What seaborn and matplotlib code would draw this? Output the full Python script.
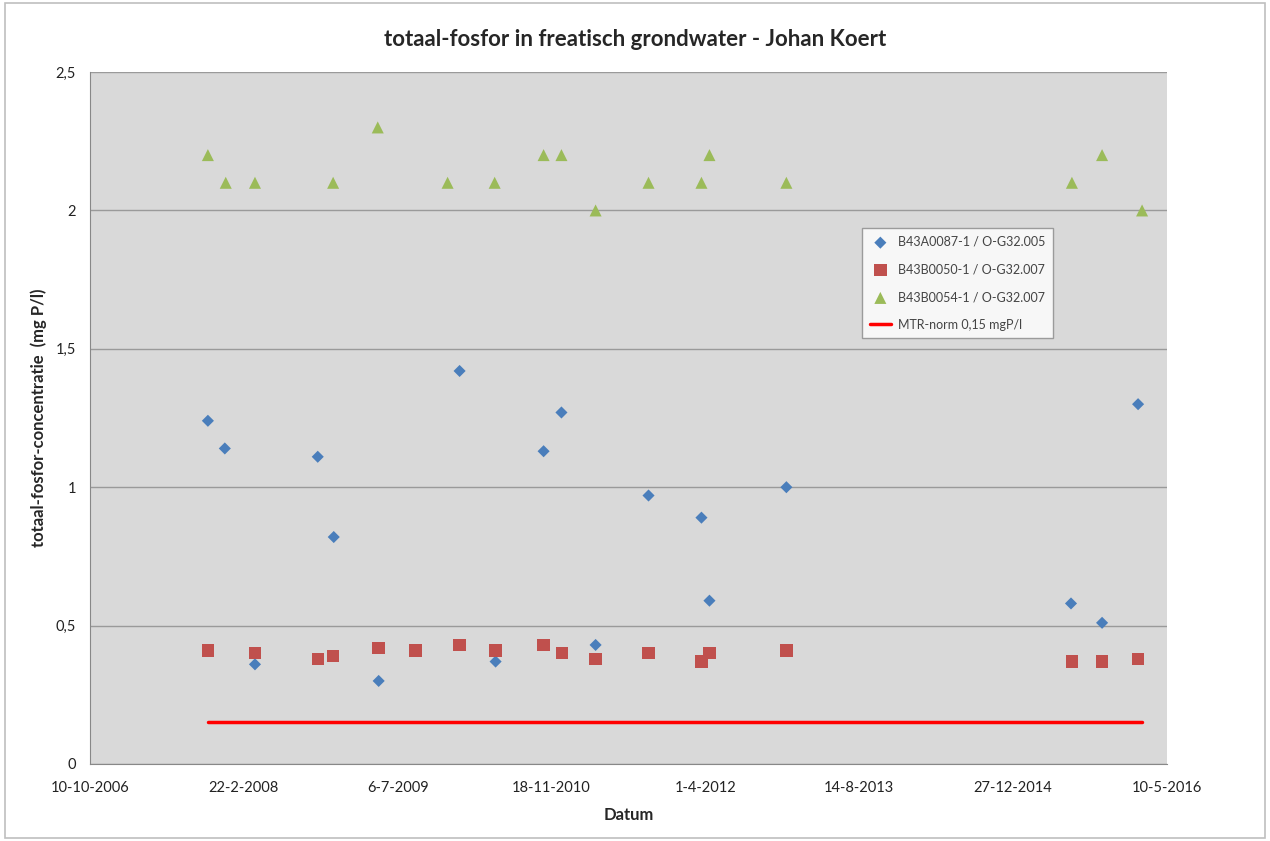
import pandas as pd
import numpy as np
import matplotlib
matplotlib.use("Agg")
import matplotlib.pyplot as plt
import matplotlib.dates as mdates
import seaborn as sns

# Data
dates_a = ["2007-10-28", "2007-12-22", "2008-03-29", "2008-10-19", "2008-12-10", "2009-05-05",
           "2010-01-23", "2010-05-20", "2010-10-23", "2010-12-20", "2011-04-10", "2011-09-29",
           "2012-03-19", "2012-04-14", "2012-12-20", "2015-07-03", "2015-10-12", "2016-02-06"]
vals_a = [1.24, 1.14, 0.36, 1.11, 0.82, 0.30, 1.42, 0.37, 1.13, 1.27, 0.43, 0.97,
          0.89, 0.59, 1.00, 0.58, 0.51, 1.30]

dates_b = ["2007-10-28", "2008-03-29", "2008-10-19", "2008-12-08", "2009-05-05", "2009-09-02",
           "2010-01-23", "2010-05-20", "2010-10-23", "2010-12-22", "2011-04-10", "2011-09-29",
           "2012-03-19", "2012-04-14", "2012-12-20", "2015-07-06", "2015-10-12", "2016-02-06"]
vals_b = [0.41, 0.40, 0.38, 0.39, 0.42, 0.41, 0.43, 0.41, 0.43, 0.40, 0.38, 0.40,
          0.37, 0.40, 0.41, 0.37, 0.37, 0.38]

dates_c = ["2007-10-28", "2007-12-25", "2008-03-29", "2008-12-08", "2009-05-02", "2009-12-15",
           "2010-05-17", "2010-10-23", "2010-12-20", "2011-04-10", "2011-09-29", "2012-03-19",
           "2012-04-14", "2012-12-20", "2015-07-06", "2015-10-12", "2016-02-19"]
vals_c = [2.2, 2.1, 2.1, 2.1, 2.3, 2.1, 2.1, 2.2, 2.2, 2.0, 2.1, 2.1, 2.2, 2.1, 2.1, 2.2, 2.0]

norm_dates = ["2007-10-28", "2016-02-19"]
norm_vals = [0.15, 0.15]

names = ["B43A0087-1 / O-G32.005", "B43B0050-1 / O-G32.007", "B43B0054-1 / O-G32.007"]
norm_name = "MTR-norm 0,15 mgP/l"

df = pd.concat([
    pd.DataFrame({"datum": pd.to_datetime(dates_a), "waarde": vals_a, "reeks": names[0]}),
    pd.DataFrame({"datum": pd.to_datetime(dates_b), "waarde": vals_b, "reeks": names[1]}),
    pd.DataFrame({"datum": pd.to_datetime(dates_c), "waarde": vals_c, "reeks": names[2]}),
])
norm = pd.DataFrame({"datum": pd.to_datetime(norm_dates), "waarde": norm_vals})

sns.set_style("white")
plt.rcParams["font.family"] = ["Lato", "DejaVu Sans"]

fig = plt.figure(figsize=(12.7, 8.41), dpi=100)
fig.patch.set_facecolor("white")
# outer chart border
fig.add_artist(plt.Rectangle((0.004, 0.004), 0.992, 0.992, transform=fig.transFigure,
                             fill=False, edgecolor="#bfbfbf", linewidth=1.2))
ax = fig.add_axes([0.0709, 0.0916, 0.848, 0.8227])
ax.set_facecolor("#d9d9d9")

palette = {names[0]: "#4a7ebb", names[1]: "#c0504d", names[2]: "#9bbb59"}
markers = {names[0]: "D", names[1]: "s", names[2]: "^"}
sizes = {names[0]: 38, names[1]: 80, names[2]: 75}

for n in names:
    sub = df[df["reeks"] == n]
    sns.scatterplot(data=sub, x="datum", y="waarde", color=palette[n], marker=markers[n],
                    s=sizes[n], edgecolor="none", ax=ax, label=n, zorder=3)
sns.lineplot(data=norm, x="datum", y="waarde", color="#ff0000", linewidth=2.5, ax=ax,
             label=norm_name, zorder=2)

# axes
start = pd.Timestamp("2006-10-10")
ticks = [start + pd.Timedelta(days=500 * i) for i in range(8)]
ax.set_xlim(ticks[0], ticks[-1])
ax.set_xticks(ticks)
ax.set_xticklabels([f"{t.day}-{t.month}-{t.year}" for t in ticks])
ax.set_ylim(0, 2.5)
yt = [0, 0.5, 1, 1.5, 2, 2.5]
ax.set_yticks(yt)
ax.set_yticklabels([("%g" % v).replace(".", ",") for v in yt])
ax.yaxis.grid(True, color="#9a9a9a", linewidth=1)
ax.set_axisbelow(True)
for s in ["top", "right"]:
    ax.spines[s].set_visible(False)
ax.spines["left"].set_color("#888888")
ax.spines["bottom"].set_color("#888888")
ax.tick_params(axis="both", length=4, color="#888888", labelsize=10.5, labelcolor="#222222", pad=6)
ax.tick_params(axis="x", direction="out", pad=8)

ax.set_xlabel("Datum", fontsize=12, fontweight="bold", labelpad=9)
ax.set_ylabel("totaal-fosfor-concentratie  (mg P/l)", fontsize=12, fontweight="bold", labelpad=6)
fig.suptitle("totaal-fosfor in freatisch grondwater - Johan Koert", fontsize=16,
             fontweight="bold", y=0.965)

leg = ax.legend(loc="upper left", bbox_to_anchor=(0.717, 0.774), borderaxespad=0,
                frameon=True, fancybox=False, fontsize=9, labelcolor="#444444",
                borderpad=0.6, labelspacing=1.25, handlelength=1.7, handletextpad=0.6,
                edgecolor="#888888")
leg.get_frame().set_facecolor("white")
leg.get_frame().set_linewidth(1)

fig.savefig("out.png", dpi=100)
